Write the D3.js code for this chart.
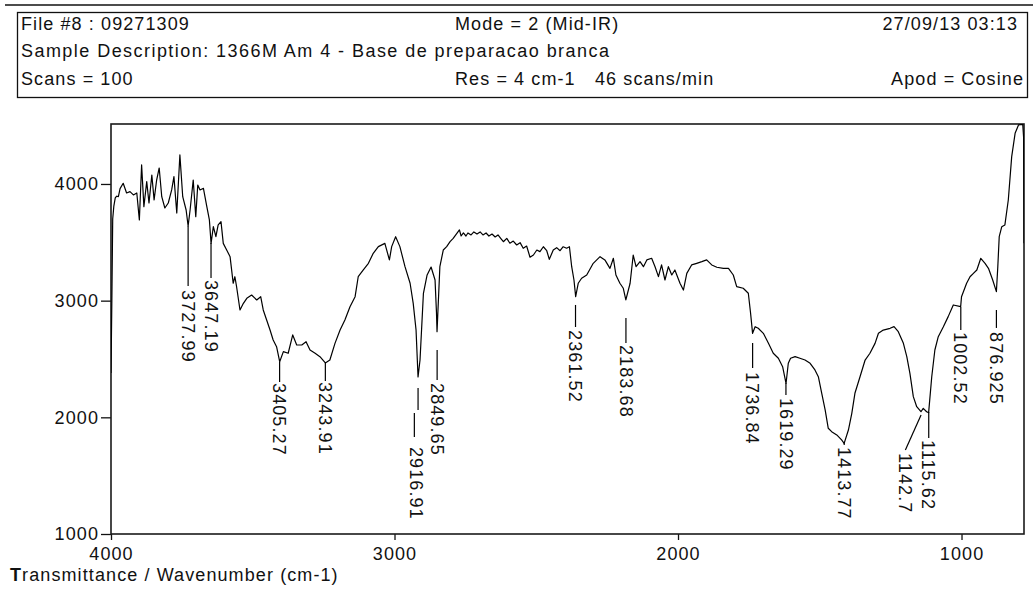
<!DOCTYPE html>
<html><head><meta charset="utf-8">
<script src="https://cdn.jsdelivr.net/npm/d3@7"></script>
<style>
body{margin:0;background:#fff}
text{font-family:"Liberation Sans",Arial,sans-serif;fill:#111}
</style>
</head><body>
<svg id="c" width="1033" height="590"></svg>
<script>
// ---- data ----
const wavenumbers = [4000,3997,3994,3990,3985,3980,3974,3968,3957,3945,3933,3921,3909,3900,3892,3884,3874,3866,3856,3848,3839,3830,3821,3810,3798,3786,3778,3768,3757,3747,3735,3728,3721,3710,3701,3694,3686,3674,3662,3653,3647,3639,3630,3622,3612,3604,3592,3580,3569,3563,3557,3545,3533,3521,3504,3486,3472,3463,3451,3439,3428,3416,3405,3392,3375,3359,3345,3327,3312,3298,3280,3263,3244,3228,3210,3192,3175,3157,3139,3128,3110,3092,3075,3057,3034,3018,3010,2996,2981,2963,2945,2934,2924,2917,2910,2898,2885,2871,2857,2852,2850,2840,2828,2816,2804,2793,2771,2765,2757,2748,2741,2730,2720,2709,2698,2688,2677,2667,2656,2645,2635,2624,2616,2604,2593,2581,2569,2557,2546,2534,2522,2510,2498,2487,2475,2463,2454,2440,2428,2416,2405,2393,2383,2375,2367,2361,2352,2340,2322,2299,2275,2258,2240,2228,2219,2205,2193,2184,2169,2158,2148,2134,2122,2110,2093,2081,2069,2058,2046,2034,2022,2011,1993,1981,1969,1952,1934,1916,1899,1881,1863,1840,1822,1805,1793,1770,1752,1744,1737,1728,1717,1699,1681,1664,1646,1631,1619,1611,1603,1587,1570,1552,1534,1517,1505,1493,1481,1470,1458,1440,1423,1414,1399,1387,1376,1358,1340,1323,1305,1293,1276,1252,1238,1223,1205,1193,1182,1170,1158,1143,1135,1123,1116,1105,1094,1082,1064,1047,1029,1003,1000,982,970,958,946,932,917,905,890,877,872,867,858,847,835,823,811,799,784,781,779.6];
const transmittance = [2380,3000,3700,3810,3880,3895,3891,3960,4006,3923,3934,3906,3923,3692,4163,3806,4020,3837,4077,3863,4034,4137,3891,3794,3837,3949,4063,3751,4249,3891,3777,3640,3777,4034,3720,3991,3949,3963,3806,3692,3491,3634,3548,3649,3677,3491,3434,3377,3149,3205,3119,2920,2977,3020,3048,3006,3034,2920,2834,2748,2663,2605,2477,2563,2549,2706,2620,2620,2648,2577,2549,2520,2466,2491,2634,2748,2834,2948,3034,3205,3263,3320,3406,3463,3491,3349,3463,3548,3463,3291,3149,2977,2748,2346,2491,3063,3220,3288,3177,2900,2734,3291,3434,3463,3506,3534,3606,3554,3580,3554,3580,3563,3589,3571,3589,3563,3580,3554,3571,3546,3563,3529,3505,3534,3492,3511,3477,3497,3449,3468,3372,3391,3434,3420,3462,3428,3354,3434,3454,3428,3462,3449,3462,3291,3177,3034,3149,3192,3220,3320,3377,3349,3277,3363,3220,3149,3106,3006,3149,3391,3291,3334,3291,3349,3363,3291,3206,3306,3177,3291,3220,3263,3149,3091,3234,3306,3320,3334,3349,3306,3286,3277,3277,3220,3120,3106,3063,2892,2720,2777,2763,2720,2634,2549,2506,2434,2290,2463,2506,2520,2506,2491,2463,2406,2348,2206,2063,1906,1877,1849,1806,1777,1891,2034,2206,2348,2491,2549,2634,2720,2748,2763,2777,2734,2634,2520,2377,2177,2091,2048,2077,2048,2040,2348,2577,2691,2777,2863,2963,2949,3034,3149,3205,3234,3263,3363,3320,3277,3177,3077,3291,3548,3634,3649,3863,4234,4434,4506,4510,4400,3491];

const peakWavenumbers = [3727.99,3647.19,3405.27,3243.91,2916.91,2849.65,2361.52,2183.68,1736.84,1619.29,1413.77,1142.7,1115.62,1002.52,876.925];
const peakLabels = ["3727.99","3647.19","3405.27","3243.91","2916.91","2849.65","2361.52","2183.68","1736.84","1619.29","1413.77","1142.7","1115.62","1002.52","876.925"];
const peakLabelWavenumbers = [3727.99,3647.19,3405.27,3243.91,2924,2849.65,2361.52,2183.68,1736.84,1619.29,1413.77,1198,1115.62,1002.52,876.925];
const leaderBottomWavenumbers = [3727.99,3647.19,3405.27,3243.91,2916.91,2849.65,2361.52,2183.68,1736.84,1619.29,1413.77,1198,1115.62,1002.52,876.925];
const leaderTop = [3640,3494,2474,2466,2251,2577,2963,2851,2637,2294,1780,2020,2046,2946,2920];
const leaderBottom = [3126,3194,2303,2312,2063,2320,2774,2637,2423,2191,1762,1720,1823,2748,2766];
const labelStart = [3091,3177,2294,2303,1746,2294,2748,2620,2389,2166,1746,1694,1806,2731,2731];
const extraLeaderWavenumbers = [2930];
const extraLeaderTop = [2037];
const extraLeaderBottom = [1831];

const xTicks = [4000,3000,2000,1000];
const yTicks = [1000,2000,3000,4000];
const xDomain = [4000,779.6];
const yDomain = [1000,4514];

const headerRow1 = ["File #8 : 09271309","Mode = 2 (Mid-IR)","27/09/13 03:13"];
const headerRow2 = ["Sample Description: 1366M Am 4 - Base de preparacao branca"];
const headerRow3 = ["Scans = 100","Res = 4 cm-1","46 scans/min","Apod = Cosine"];
const xTitleBold = "T";
const xTitleRest = "ransmittance / Wavenumber (cm-1)";

// ---- layout ----
const svg = d3.select("#c");
const L = 111, R = 1024, T = 124, B = 534;
const x = d3.scaleLinear().domain(xDomain).range([L, R]);
const y = d3.scaleLinear().domain(yDomain).range([B, T]);
const FS = 18, LS = 1.1;

// header
svg.append("line").attr("x1",5).attr("x2",1033).attr("y1",5).attr("y2",5)
  .attr("stroke","#111").attr("stroke-width",1.6);
svg.append("rect").attr("x",17.5).attr("y",12.5).attr("width",1010).attr("height",85)
  .attr("fill","none").attr("stroke","#111").attr("stroke-width",1.3);
function htext(s, xx, yy, anchor, ls){
  svg.append("text").attr("x",xx).attr("y",yy).attr("text-anchor",anchor||"start")
    .attr("font-size",FS).attr("letter-spacing",ls||LS).text(s);
}
htext(headerRow1[0],21,30);
htext(headerRow1[1],455,30);
htext(headerRow1[2],1018,30,"end");
htext(headerRow2[0],21,57,"start",1.45);
htext(headerRow3[0],21,85);
htext(headerRow3[1],455,85);
htext(headerRow3[2],595,85);
htext(headerRow3[3],1024,85,"end");

// clip
svg.append("clipPath").attr("id","pc").append("rect")
  .attr("x",L).attr("y",T).attr("width",R-L).attr("height",B-T);

// axes
const yAxis = d3.axisLeft(y).tickValues(yTicks).tickSize(10).tickPadding(2).tickFormat(d3.format("d"));
const gy = svg.append("g").attr("transform",`translate(${L},0)`).call(yAxis);
const xAxis = d3.axisBottom(x).tickValues(xTicks).tickSize(6).tickPadding(7).tickFormat(d3.format("d"));
const gx = svg.append("g").attr("transform",`translate(0,${B})`).call(xAxis);
[gx,gy].forEach(g=>{
  g.select(".domain").remove();
  g.selectAll("line").attr("stroke","#111").attr("stroke-width",1.3);
  g.selectAll("text").attr("font-size",FS).attr("letter-spacing",LS)
   .attr("font-family","'Liberation Sans',Arial,sans-serif").attr("fill","#111");
});

// frame
svg.append("rect").attr("x",L).attr("y",T).attr("width",R-L).attr("height",B-T)
  .attr("fill","none").attr("stroke","#1a1a1a").attr("stroke-width",1.6);

// spectrum
const pts = wavenumbers.map((w,i)=>[w,transmittance[i]]);
const line = d3.line().x(d=>x(d[0])).y(d=>y(d[1]));
svg.append("path").datum(pts).attr("clip-path","url(#pc)")
  .attr("d",line).attr("fill","none").attr("stroke","#000").attr("stroke-width",1.2)
  .attr("stroke-linejoin","round");

// peak labels
peakWavenumbers.forEach((w,i)=>{
  svg.append("line").attr("x1",x(w)).attr("y1",y(leaderTop[i]))
    .attr("x2",x(leaderBottomWavenumbers[i])).attr("y2",y(leaderBottom[i]))
    .attr("stroke","#000").attr("stroke-width",1.2);
  svg.append("text").attr("transform",`translate(${x(peakLabelWavenumbers[i])},${y(labelStart[i])}) rotate(90)`)
    .attr("dy","0.35em").attr("font-size",FS).attr("letter-spacing",LS).text(peakLabels[i]);
});
extraLeaderWavenumbers.forEach((w,i)=>{
  svg.append("line").attr("x1",x(w)).attr("x2",x(w))
    .attr("y1",y(extraLeaderTop[i])).attr("y2",y(extraLeaderBottom[i]))
    .attr("stroke","#000").attr("stroke-width",1.2);
});

// x title
const tt = svg.append("text").attr("x",10).attr("y",581).attr("font-size",FS).attr("letter-spacing",LS);
tt.append("tspan").attr("font-weight","bold").text(xTitleBold);
tt.append("tspan").text(xTitleRest);
</script>
</body></html>
